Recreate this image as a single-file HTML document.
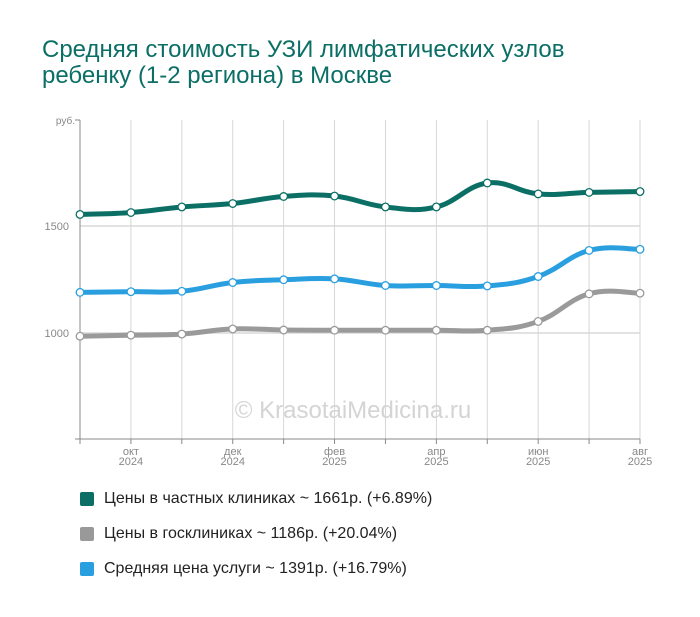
<!DOCTYPE html>
<html><head><meta charset="utf-8"><style>
body{margin:0;background:#fff;width:700px;height:617px;overflow:hidden;font-family:"Liberation Sans",sans-serif}
#title{position:absolute;left:42px;top:37px;color:#0b6f66;font-size:24px;line-height:26px;margin:0;font-weight:normal}
.leg{position:absolute;left:80px;font-size:16px;color:#222;display:flex;align-items:center}
.leg span.sw{width:14px;height:14px;border-radius:2px;margin-right:10px;display:inline-block}
</style></head><body>
<h1 id="title">Средняя стоимость УЗИ лимфатических узлов<br>ребенку (1-2 региона) в Москве</h1>
<svg id="chart" width="700" height="480" style="position:absolute;left:0;top:0"></svg>
<div class="leg" style="top:490px"><span class="sw" style="background:#0b6f66"></span>Цены в частных клиниках ~ 1661р. (+6.89%)</div>
<div class="leg" style="top:525px"><span class="sw" style="background:#999"></span>Цены в госклиниках ~ 1186р. (+20.04%)</div>
<div class="leg" style="top:560px"><span class="sw" style="background:#2a9fe0"></span>Средняя цена услуги ~ 1391р. (+16.79%)</div>
<script>
const categories=["сен 2024","окт 2024","ноя 2024","дек 2024","янв 2025","фев 2025","мар 2025","апр 2025","май 2025","июн 2025","июл 2025","авг 2025"];
const privateValues=[1554,1563,1589,1605,1638,1640,1589,1589,1701,1650,1657,1661];
const publicValues=[985,990,995,1019,1014,1013,1013,1013,1013,1054,1183,1186];
const averageValues=[1190,1193,1195,1236,1249,1253,1222,1222,1220,1264,1386,1391];
const yTicks=[1000,1500];
const xLabels=[[1,"окт","2024"],[3,"дек","2024"],[5,"фев","2025"],[7,"апр","2025"],[9,"июн","2025"],[11,"авг","2025"]];
const NS="http://www.w3.org/2000/svg";
const svg=document.getElementById('chart');
const x0=80,x1=640,yTop=120,yBot=439;
const X=i=>x0+i*(x1-x0)/(categories.length-1);
const Y=v=>226-(v-1500)*107/500;
function mk(t,a){const e=document.createElementNS(NS,t);for(const k in a)e.setAttribute(k,a[k]);svg.appendChild(e);return e;}
for(const t of yTicks){
 const l=mk('line',{x1:x0,x2:x1,y1:Y(t),y2:Y(t),stroke:'#e2e2e2','stroke-width':2});
 
 
 const tx=mk('text',{x:x0-11,y:Y(t)+4,'text-anchor':'end','font-size':11,fill:'#888'});
 tx.textContent=t;
 
 
}
const unit=mk('text',{x:x0-5,y:yTop+4,'text-anchor':'end','font-size':10,fill:'#888'});unit.textContent='руб.';


categories.forEach((c,i)=>{
 if(i>0){const g=mk('line',{x1:X(i),x2:X(i),y1:yTop,y2:yBot,stroke:'#d6d6d6','stroke-width':1});
 
 }
 mk('line',{x1:X(i),x2:X(i),y1:yBot,y2:yBot+5,stroke:'#888'});
});
mk('line',{x1:x0,x2:x0,y1:yTop,y2:yBot,stroke:'#888'});
mk('line',{x1:x0-5,x2:x0,y1:yTop,y2:yTop,stroke:'#888'});
mk('line',{x1:x0-5,x2:x0,y1:yBot,y2:yBot,stroke:'#888'});
mk('line',{x1:x0,x2:x1,y1:yBot,y2:yBot,stroke:'#888'});
for(const [i,m,yr] of xLabels){
 const t=mk('text',{x:X(i),y:yBot+16,'text-anchor':'middle','font-size':11,fill:'#888'});
 t.innerHTML='<tspan x="'+X(i)+'">'+m+'</tspan><tspan x="'+X(i)+'" dy="10">'+yr+'</tspan>';
 
 
}
const wm=mk('text',{x:353,y:418,'text-anchor':'middle','font-size':24,fill:'#d4d4d4'});wm.textContent='© KrasotaiMedicina.ru';


function path(vals){
 const p=vals.map((v,i)=>[X(i),Y(v)]);let d='M'+p[0][0]+','+p[0][1];
 for(let i=0;i<p.length-1;i++){const a=p[Math.max(i-1,0)],b=p[i],c=p[i+1],e=p[Math.min(i+2,p.length-1)];
  const k=0.2;
  d+=` C${b[0]+(c[0]-a[0])*k},${b[1]+(c[1]-a[1])*k} ${c[0]-(e[0]-b[0])*k},${c[1]-(e[1]-b[1])*k} ${c[0]},${c[1]}`;}
 return d;
}
function series(vals,color,name){
 const l=mk('path',{d:path(vals),fill:'none',stroke:color,'stroke-width':5,'stroke-linecap':'round'});
 
 
 vals.forEach((v,i)=>{const c=mk('circle',{cx:X(i),cy:Y(v),r:3.8,fill:'#fff',stroke:color,'stroke-width':1.3});
  
  });
}
series(publicValues,'#9a9a9a','public');
series(averageValues,'#2a9fe0','average');
series(privateValues,'#0b6f66','private');
</script>
</body></html>
